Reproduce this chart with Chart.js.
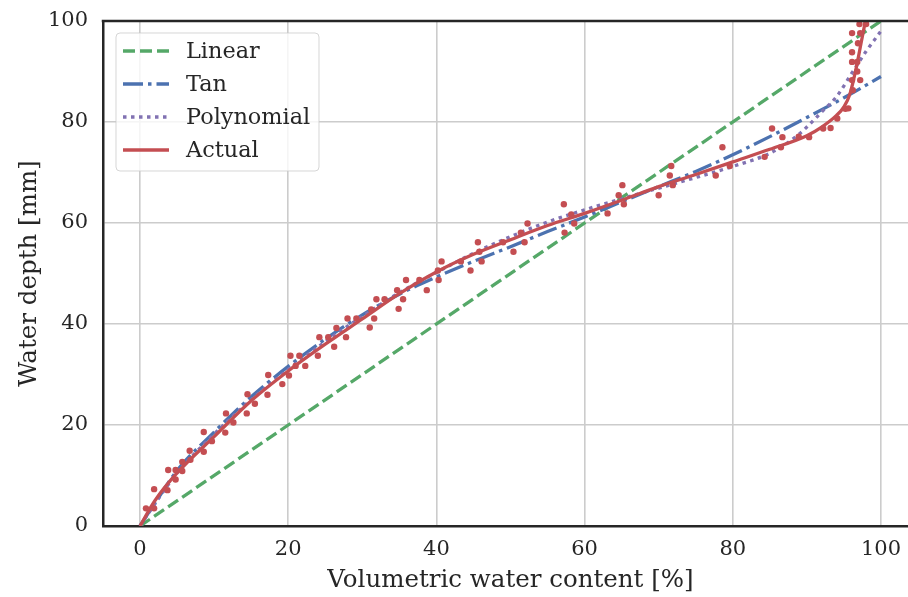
<!DOCTYPE html>
<html>
<head>
<meta charset="utf-8">
<script src="https://cdn.jsdelivr.net/npm/chart.js@4/dist/chart.umd.min.js"></script>
<style>
  html, body { margin: 0; padding: 0; background: #fff; overflow: hidden; }
  canvas { display: block; }
</style>
</head>
<body>
<canvas id="myChart" width="930" height="597"></canvas>
<script>
// tick labels
const xTicks = [0, 20, 40, 60, 80, 100];
const yTicks = [0, 20, 40, 60, 80, 100];

// model curves (volumetric water content [%] -> water depth [mm])
const linearX = [0, 100];
const linearY = [0, 100];

const tanX = [0, 1, 2, 5, 10, 15, 20, 25, 30, 35, 40, 45, 50, 55, 60, 65, 70, 75, 80, 85, 90, 95, 100];
const tanY = [0, 2.3, 4.5, 11, 18.6, 25.6, 31.6, 37, 41.8, 45.9, 49.3, 52.4, 55.3, 58.3, 61.2, 64.2, 67.2, 70.2, 73.5, 77.1, 80.9, 84.8, 89];

const polyX = [0, 1, 2, 5, 10, 15, 20, 25, 30, 35, 40, 45, 50, 55, 60, 65, 70, 75, 80, 85, 88, 90, 92, 94, 96, 98, 100];
const polyY = [0, 2.2, 4.4, 10.5, 18.2, 25, 31, 36.5, 41.5, 46.2, 50.2, 54, 57.3, 60.2, 62.6, 64.8, 66.9, 69, 71.2, 73.8, 76.5, 79, 82, 85, 89.5, 94, 98];

const actualX = [0, 2, 5, 10, 15, 20, 25, 30, 35, 40, 45, 50, 55, 60, 65, 70, 75, 80, 85, 90, 92, 94, 95, 95.8, 96.7, 97.3, 97.9];
const actualY = [0, 5, 10.5, 17.7, 24.8, 30.7, 36, 41, 46, 50.3, 53.8, 56.7, 59.5, 61.9, 64.5, 67.2, 69.6, 72.1, 74.6, 77.3, 79, 81.3, 83, 85.5, 91, 95.5, 100];

// measured points
const obsX = [0.8, 1.9, 1.9, 3.7, 3.8, 4.8, 4.8, 5.7, 5.7, 6.7, 6.8, 8.6, 8.6, 9.7, 11.5, 11.6, 12.6, 14.5, 14.4, 15.5,
  17.2, 17.3, 19.2, 20.1, 21.0, 22.3, 20.3, 21.5, 24.0, 24.2, 25.4, 26.2, 26.5, 27.8, 28.0, 29.2, 31.0, 31.2, 31.6, 31.9,
  33.0, 34.7, 34.9, 35.5, 35.9, 37.7, 38.7, 40.2, 40.3, 40.7, 43.3, 44.6, 45.6, 45.8, 46.1, 49.0, 50.4, 51.4, 51.9, 52.3,
  57.2, 57.3, 58.2, 58.6, 63.1, 64.6, 65.1, 65.3, 70.0, 71.9, 71.5, 71.7, 77.7, 78.6, 79.6, 84.3, 85.3, 86.5, 86.7, 88.9,
  90.3, 92.2, 93.2, 94.1, 95.2, 95.6, 96.2, 96.1, 96.8, 96.1, 96.8, 96.9, 96.1, 96.1, 97.2, 97.1, 98.0, 97.2];
const obsY = [3.5, 3.5, 7.3, 7.1, 11.1, 9.2, 11.1, 12.7, 10.9, 14.9, 13.1, 18.6, 14.7, 16.8, 18.5, 22.3, 20.5, 26.1, 22.3, 24.2,
  26.0, 29.9, 28.1, 29.8, 31.7, 31.7, 33.7, 33.7, 33.7, 37.4, 37.4, 35.5, 39.2, 37.4, 41.1, 41.1, 39.3, 42.9, 41.1, 44.9,
  44.9, 46.7, 43.0, 44.9, 48.7, 48.7, 46.7, 50.6, 48.7, 52.4, 52.4, 50.6, 56.2, 54.3, 52.4, 56.2, 54.3, 58.1, 56.2, 59.9,
  63.7, 58.1, 61.7, 59.9, 61.9, 65.5, 67.5, 63.7, 65.5, 67.5, 69.4, 71.3, 69.4, 75.0, 71.3, 73.1, 78.7, 75.0, 77.0, 77.1,
  77.0, 78.7, 78.8, 80.7, 82.6, 82.7, 86.3, 88.3, 90.0, 91.9, 91.9, 95.6, 93.8, 97.6, 97.6, 99.4, 99.4, 88.3];

function pts(xs, ys) {
  return xs.map(function (x, i) { return { x: x, y: ys[i] }; });
}

const legendNames = ['Linear', 'Tan', 'Polynomial', 'Actual'];
const textColor = '#262626';
const serif = "'DejaVu Serif', serif";

// top spine (chart.js only draws the axis borders it owns)
const topSpine = {
  id: 'topSpine',
  afterDraw: function (chart) {
    const a = chart.chartArea, ctx = chart.ctx;
    ctx.save();
    ctx.strokeStyle = textColor;
    ctx.lineWidth = 2.5;
    ctx.beginPath();
    ctx.moveTo(a.left - 1.25, a.top);
    ctx.lineTo(a.right + 1.25, a.top);
    ctx.stroke();
    ctx.restore();
  }
};

// matplotlib-like legend box with line samples
const lineLegend = {
  id: 'lineLegend',
  afterDatasetsDraw: function (chart) {
    const ctx = chart.ctx;
    const bx = 116, by = 33, bw = 203, bh = 138;
    ctx.save();
    ctx.beginPath();
    ctx.roundRect(bx, by, bw, bh, 4);
    ctx.fillStyle = 'rgba(255,255,255,0.8)';
    ctx.fill();
    ctx.strokeStyle = 'rgba(204,204,204,0.8)';
    ctx.lineWidth = 1;
    ctx.stroke();
    legendNames.forEach(function (name, i) {
      const ds = chart.data.datasets.find(function (d) { return d.label === name; });
      const y = 51 + i * 33;
      ctx.beginPath();
      ctx.setLineDash(ds.borderDash || []);
      ctx.lineCap = 'butt';
      ctx.strokeStyle = ds.borderColor;
      ctx.lineWidth = ds.borderWidth;
      ctx.moveTo(123, y);
      ctx.lineTo(169, y);
      ctx.stroke();
      ctx.setLineDash([]);
      ctx.fillStyle = textColor;
      ctx.font = "22.4px " + serif;
      ctx.textBaseline = 'middle';
      ctx.fillText(name, 186, y + 1);
    });
    ctx.restore();
  }
};

const ctx = document.getElementById('myChart');
const myChart = new Chart(ctx, {
  type: 'line',
  data: {
    datasets: [
      {
        label: 'observed',
        data: pts(obsX, obsY),
        showLine: false,
        pointRadius: 3.2,
        pointBackgroundColor: '#C44E52',
        pointBorderWidth: 0,
        borderColor: '#C44E52'
      },
      {
        label: 'Actual',
        data: pts(actualX, actualY),
        borderColor: '#C44E52',
        borderWidth: 3.3,
        pointRadius: 0,
        cubicInterpolationMode: 'monotone'
      },
      {
        label: 'Polynomial',
        data: pts(polyX, polyY),
        borderColor: '#8172B2',
        borderWidth: 3.3,
        borderDash: [3.5, 4.5],
        pointRadius: 0,
        cubicInterpolationMode: 'monotone'
      },
      {
        label: 'Tan',
        data: pts(tanX, tanY),
        borderColor: '#4C72B0',
        borderWidth: 3.3,
        borderDash: [20, 5, 3.5, 5],
        pointRadius: 0,
        cubicInterpolationMode: 'monotone'
      },
      {
        label: 'Linear',
        data: pts(linearX, linearY),
        borderColor: '#55A868',
        borderWidth: 3.3,
        borderDash: [12, 5],
        pointRadius: 0
      }
    ]
  },
  options: {
    responsive: false,
    animation: false,
    events: [],
    layout: { padding: { top: 21, right: 12, left: 0, bottom: 0 } },
    plugins: {
      legend: { display: false },
      tooltip: { enabled: false }
    },
    scales: {
      x: {
        type: 'linear',
        min: -5,
        max: 105,
        afterBuildTicks: function (scale) {
          scale.ticks = xTicks.map(function (v) { return { value: v }; });
        },
        afterFit: function (scale) {
          scale.height = 71;
          scale.paddingLeft = 0;
          scale.paddingRight = 0;
        },
        grid: { color: '#cccccc', lineWidth: 1.6, drawTicks: false },
        border: { display: true, color: textColor, width: 2.5 },
        ticks: { color: textColor, font: { family: serif, size: 21 }, padding: 11 },
        title: {
          display: true,
          text: 'Volumetric water content [%]',
          color: textColor,
          font: { family: serif, size: 24.5 },
          padding: { top: 2, bottom: 2 }
        }
      },
      y: {
        type: 'linear',
        min: 0,
        max: 100,
        afterBuildTicks: function (scale) {
          scale.ticks = yTicks.map(function (v) { return { value: v }; });
        },
        afterFit: function (scale) {
          scale.width = 103;
          scale.paddingTop = 0;
          scale.paddingBottom = 0;
        },
        grid: { color: '#cccccc', lineWidth: 1.6, drawTicks: false },
        border: { display: true, color: textColor, width: 2.5 },
        ticks: { color: textColor, font: { family: serif, size: 21 }, padding: 15 },
        title: {
          display: true,
          text: 'Water depth [mm]',
          color: textColor,
          font: { family: serif, size: 24.5 },
          padding: { top: 15, bottom: 0 }
        }
      }
    }
  },
  plugins: [topSpine, lineLegend]
});
</script>
</body>
</html>
